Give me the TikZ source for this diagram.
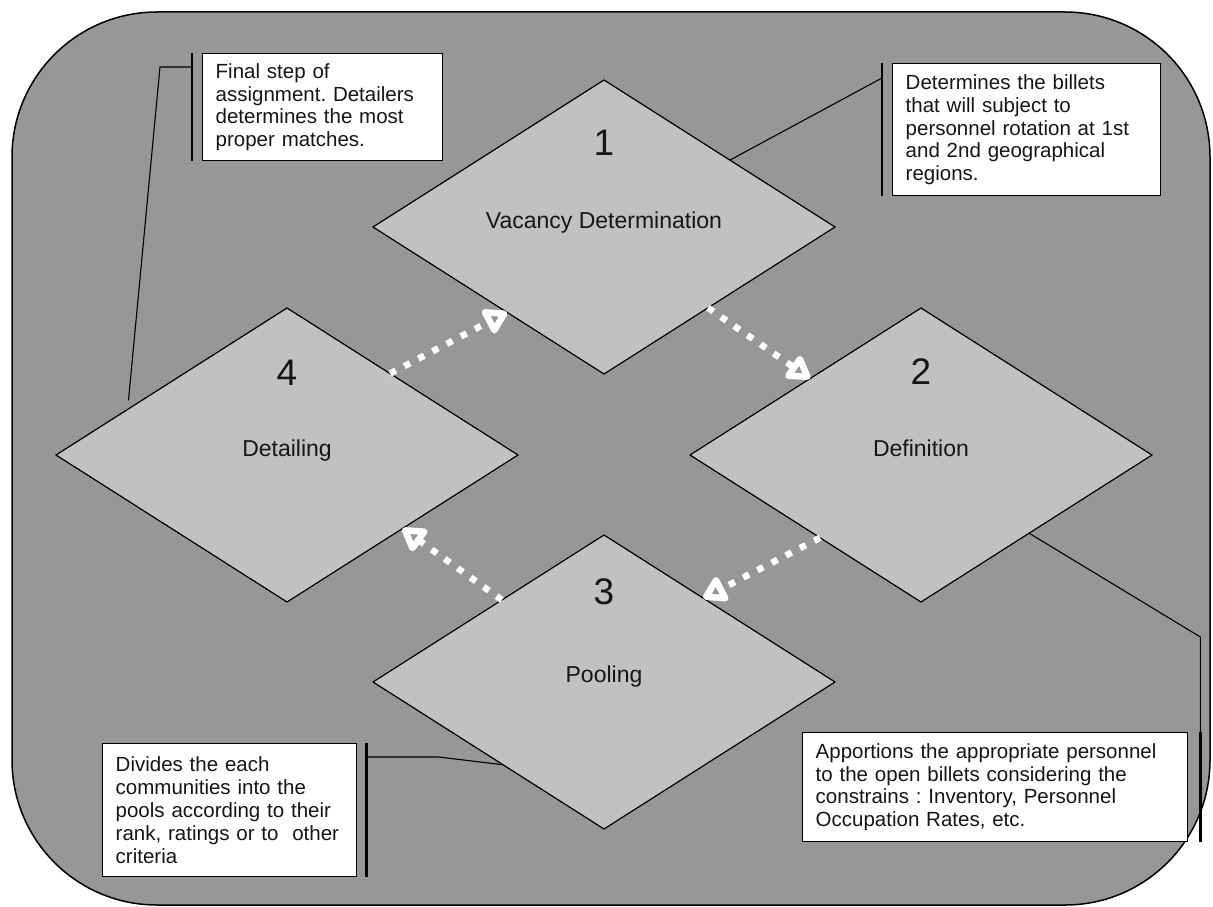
\documentclass[tikz,border=0pt]{standalone}
\usepackage{fontspec}
\setmainfont{Liberation Sans}
\usetikzlibrary{shapes.geometric,arrows.meta,calc}
\definecolor{panel}{RGB}{151,151,151}
\definecolor{stage}{RGB}{193,193,193}
\definecolor{ink}{RGB}{22,22,22}
\frenchspacing

\begin{document}
\begin{tikzpicture}[x=1pt,y=-1pt,
  stagebox/.style={diamond, draw=black, line width=1.2pt, fill=stage, inner sep=0pt, outer sep=0pt,
    minimum width=462pt, minimum height=294pt},
  stagenum/.style={font=\fontsize{37}{40}\selectfont, text=ink, inner sep=0pt},
  stagename/.style={font=\fontsize{23}{26}\selectfont, text=ink, inner sep=0pt, anchor=base},
  note/.style={draw=black, line width=1.4pt, fill=white, anchor=north west, align=left,
    inner xsep=13pt, inner ysep=5pt, font=\fontsize{20.5}{22.8}\selectfont, text=ink},
  bar/.style={line width=2.4pt},
  leader/.style={line width=1.1pt},
  flow/.style={draw=white, line width=6.5pt, dash pattern=on 6.5pt off 9.5pt,
    -{Triangle[open, length=26pt, width=30pt, line width=8pt, round]}}
]
% canvas and rounded panel
\fill[white] (0,0) rectangle (1213,907);
\useasboundingbox (0,0) rectangle (1213,907);
\draw[line width=1.5pt, fill=panel, rounded corners=145pt] (12,12) rectangle (1210,905);

% the four stages
\node[stagebox] (d1) at (604,227) {};
\node[stagebox] (d2) at (921,455) {};
\node[stagebox] (d3) at (604,682) {};
\node[stagebox] (d4) at (287,455) {};

\node[stagenum] (n1) at ($(d1.center)+(0,-84)$) {1};
\node[stagenum] (n2) at ($(d2.center)+(0,-83)$) {2};
\node[stagenum] (n3) at ($(d3.center)+(0,-90)$) {3};
\node[stagenum] (n4) at ($(d4.center)+(0,-82)$) {4};

\node[stagename] (t1) at ($(d1.center)+(0,1)$) {Vacancy Determination};
\node[stagename] (t2) at ($(d2.center)+(0,1)$) {Definition};
\node[stagename] (t3) at ($(d3.center)+(0,0)$) {Pooling};
\node[stagename] (t4) at ($(d4.center)+(0,1)$) {Detailing};

% explanatory notes
\node[note, text width=214pt, minimum height=107pt] (bA) at (202,53)
  {Final step of\\assignment. Detailers\\determines the most\\proper matches.};
\node[note, text width=242pt, minimum height=132pt] (bB) at (892,63)
  {Determines the billets\\that will subject to\\personnel rotation at 1st\\and 2nd geographical\\regions.};
\node[note, text width=228pt, minimum height=133pt] (bC) at (102,743)
  {Divides the each\\communities into the\\pools according to their\\rank, ratings or to~ other\\criteria};
\node[note, text width=359pt, minimum height=109pt] (bD) at (802,732)
  {Apportions the appropriate personnel\\to the open billets considering the\\constrains : Inventory, Personnel\\Occupation Rates, etc.};

% brackets and leader lines
\draw[bar] ([xshift=-10pt]bA.north west) -- ([xshift=-10pt]bA.south west);
\coordinate (aA) at ([xshift=-10pt,yshift=-14pt]bA.north west);
\coordinate (pA) at ($(d4.west)!0.31!(d4.north)$);
\draw[leader, shorten >=9pt] (aA) -- ++(-32,0) -- (pA);

\draw[bar] ([xshift=-10pt]bB.north west) -- ([xshift=-10pt]bB.south west);
\coordinate (aB) at ([xshift=-10pt,yshift=-15pt]bB.north west);
\coordinate (pB) at ($(d1.north)!0.545!(d1.east)$);
\draw[leader] (aB) -- (pB);

\draw[bar] ([xshift=9pt]bC.north east) -- ([xshift=9pt]bC.south east);
\coordinate (aC) at ([xshift=9pt,yshift=-14pt]bC.north east);
\coordinate (pC) at ($(d3.west)!0.563!(d3.south)$);
\draw[leader] (aC) -- ++(72,0) -- (pC);

\draw[bar] ([xshift=12pt]bD.north east) -- ([xshift=12pt]bD.south east);
\coordinate (aD) at ([xshift=12pt]bD.north east);
\coordinate (kD) at ($(aD)+(0,-95)$);
\coordinate (pD) at ($(d2.south)!0.468!(d2.east)$);
\draw[leader] (pD) -- (kD) -- (aD);

% cycle of stages
\draw[flow] ($(d4.north)!0.446!(d4.east)$) -- ($(d1.west)!0.58!(d1.south)$);
\draw[flow] ($(d1.south)!0.45!(d1.east)$) -- ($(d2.west)!0.52!(d2.north)$);
\draw[flow] ($(d2.west)!0.563!(d2.south)$) -- ($(d3.north)!0.43!(d3.east)$);
\draw[flow] ($(d3.west)!0.558!(d3.north)$) -- ($(d4.south)!0.5!(d4.east)$);
\end{tikzpicture}
\end{document}
